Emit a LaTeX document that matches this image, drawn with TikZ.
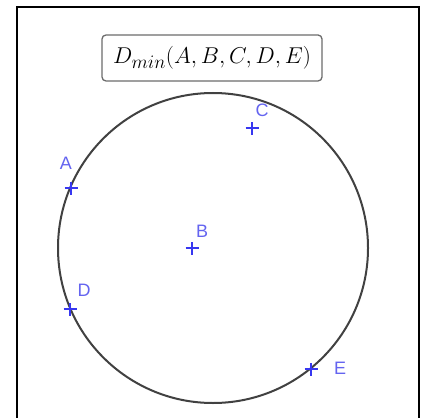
\documentclass[tikz,border=0pt]{standalone}
\usepackage{fontspec}
\newfontfamily\labelfont{Liberation Sans}
\definecolor{ptblue}{RGB}{55,55,240}
\definecolor{lblblue}{RGB}{100,100,240}
\definecolor{circgray}{RGB}{65,65,65}
\tikzset{
  ptmark/.style={inner sep=0pt, minimum size=13pt},
  ptarm/.style={ptblue, line width=2.5pt},
  ptlabel/.style={font=\labelfont\fontsize{18}{18}\selectfont, text=lblblue, inner sep=0pt},
  titlebox/.style={draw=gray!85!black, line width=1.3pt, rounded corners=4pt, fill=white,
    minimum width=220pt, minimum height=46pt, inner sep=0pt, font=\fontsize{24.88}{29}\selectfont}
}
\begin{document}
\begin{tikzpicture}[x=1pt, y=-1pt]
\useasboundingbox (0,0) rectangle (425,417);
\fill[white] (0,0) rectangle (425,417);
% frame
\draw[line width=2.2pt, black] (17,430) -- (17,7) -- (419,7) -- (419,430);
% circle
\node[circle, draw=circgray, line width=2pt, minimum size=310pt, inner sep=0pt] (circ) at (213,248) {};
% title
\node[titlebox] (title) at (212,58) {\scalebox{0.92}{$D_{min}(A,B,C,D,E)$}};
% points
\foreach \n/\x/\y in {A/71/188, B/192/248, C/252/128, D/70/309, E/311/369}{
  \node[ptmark] (\n) at (\x,\y) {};
  \draw[ptarm] ([xshift=-6.5pt]\n.center) -- ([xshift=6.5pt]\n.center)
     ([yshift=-6.5pt]\n.center) -- ([yshift=6.5pt]\n.center);
}
\node[ptlabel] (lA) at (66,163) {A};
\node[ptlabel] (lB) at (202,231) {B};
\node[ptlabel] (lC) at (262,110) {C};
\node[ptlabel] (lD) at (84,290) {D};
\node[ptlabel] (lE) at (340,368) {E};
\end{tikzpicture}
\end{document}
